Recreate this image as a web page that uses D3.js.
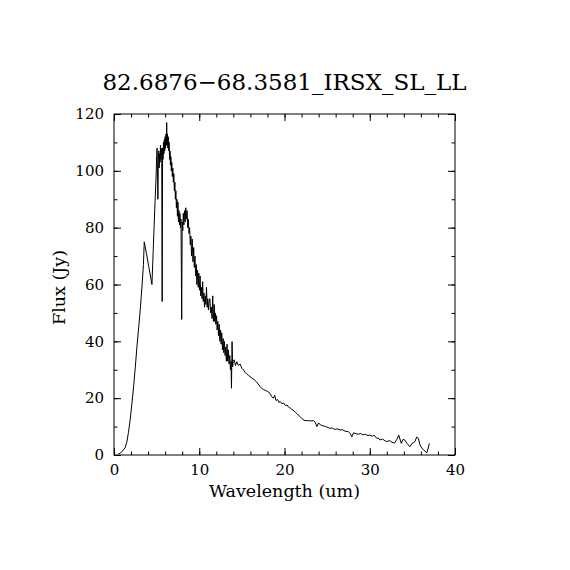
<!DOCTYPE html>
<html>
<head>
<meta charset="utf-8">
<script src="https://cdn.jsdelivr.net/npm/d3@7/dist/d3.min.js"></script>
<style>
  html, body { margin: 0; padding: 0; background: #fff; }
  svg { display: block; }
  text { font-family: "DejaVu Serif", serif; fill: #000; }
</style>
</head>
<body>
<svg id="chart" width="570" height="570"></svg>
<script>
const titleText = "82.6876\u221268.3581_IRSX_SL_LL";
const xLabel = "Wavelength (um)";
const yLabel = "Flux (Jy)";
const xMajorTicks = [0, 10, 20, 30, 40];
const yMajorTicks = [0, 20, 40, 60, 80, 100, 120];
const xDomain = [0, 40];
const yDomain = [0, 120];

const wavelength = [
  // rise
  0.5, 0.8, 1.1, 1.3, 1.5, 1.7, 1.9, 2.1, 2.3, 2.5, 2.7, 2.9, 3.1, 3.3, 3.45, 3.55,
  3.8, 4.1, 4.45, 4.6, 4.8, 4.95,
  // peak region
  5.0, 5.05, 5.1, 5.15, 5.2, 5.25, 5.3, 5.35, 5.4, 5.45, 5.5, 5.55, 5.6, 5.65, 5.7,
  5.75, 5.8, 5.85, 5.9, 5.95, 6.0, 6.05, 6.1, 6.15, 6.18, 6.22, 6.27, 6.32, 6.37,
  6.42, 6.47, 6.52, 6.57, 6.62, 6.67, 6.72, 6.78, 6.84, 6.9, 6.96, 7.02, 7.08, 7.14,
  7.2, 7.26, 7.32, 7.38, 7.44, 7.5, 7.56, 7.62, 7.68, 7.74, 7.8, 7.86, 7.94, 8.0,
  8.07, 8.13, 8.2, 8.27, 8.35, 8.42, 8.5, 8.57, 8.65, 8.72, 8.8, 8.87, 8.95,
  // noisy decline
  9.02, 9.1, 9.18, 9.26, 9.35, 9.42, 9.5, 9.58, 9.65, 9.72, 9.8, 9.88, 9.95, 10.03,
  10.1, 10.18, 10.25, 10.33, 10.4, 10.47, 10.55, 10.62, 10.7, 10.78, 10.85, 10.93,
  11.0, 11.08, 11.16, 11.25, 11.33, 11.42, 11.5, 11.58, 11.66, 11.75, 11.82, 11.88,
  11.95, 12.03, 12.1, 12.18, 12.26, 12.34, 12.42, 12.5, 12.57, 12.64, 12.72, 12.8,
  12.88, 12.95, 13.03, 13.1, 13.18, 13.26, 13.34, 13.42, 13.5, 13.58, 13.66, 13.72,
  // long-wavelength tail
  13.78, 13.85, 13.92, 13.98, 14.1, 14.25, 14.4, 14.6, 14.8,
  15.0, 15.2, 15.4, 15.6, 15.75, 15.95, 16.2, 16.45, 16.7, 16.9, 17.1, 17.3, 17.55,
  17.8, 18.05, 18.3, 18.5, 18.7, 18.85, 19.0, 19.2, 19.35, 19.5, 19.7, 19.9, 20.1,
  20.3, 20.5, 20.7, 20.85, 21.0, 21.3, 21.6, 21.9, 22.15, 22.4, 22.8, 23.1, 23.4,
  23.6, 23.8, 24.0, 24.2, 24.5, 24.8, 25.0, 25.3, 25.6, 25.9, 26.2, 26.5, 26.8,
  27.1, 27.5, 27.7, 27.9, 28.1, 28.4, 28.7, 28.9, 29.2, 29.5, 29.8, 30.0, 30.3,
  30.5, 30.8, 31.0, 31.2, 31.5, 31.8, 32.0, 32.3, 32.6, 32.9, 33.2, 33.4, 33.7,
  33.9, 34.1, 34.4, 34.7, 35.0, 35.3, 35.5, 35.7, 35.9, 36.1, 36.3, 36.5, 36.7, 37.0
];
const flux = [
  // rise
  0.3, 0.8, 1.8, 2.5, 4.5, 8, 12.5, 18, 24, 31, 38.5, 45, 52, 60, 67, 75,
  71, 66, 60, 72, 88, 99,
  // peak region
  105, 108, 100, 90, 104, 107, 101, 106, 103, 109, 104, 108, 105, 54, 108,
  104, 110, 106, 111, 107, 112, 108, 113, 109, 117, 109, 113, 108, 112,
  107, 110, 104, 107, 102, 105, 100, 103, 98, 101, 96, 99, 93, 96,
  90, 93, 87, 90, 84, 89, 82, 86, 81, 85, 80, 83, 47.7, 82,
  79, 85, 81, 86, 82, 87, 83, 86, 80, 83, 78, 80, 74,
  // noisy decline
  77, 70, 76, 68, 73, 66, 70, 63, 67, 60, 65, 59, 64, 58,
  63, 56, 59, 55, 61, 54, 57, 52, 56, 53, 59, 52,
  55, 51, 54, 55, 50, 52, 48, 56, 47, 53, 47, 50,
  46, 49, 44, 47, 42, 46, 40, 44, 39, 43, 37, 41,
  36, 40, 35, 38, 33, 39, 33, 37, 32, 35, 30, 33,
  // long-wavelength tail
  23.5, 39.9, 31, 33, 33.5, 31.5, 32.8, 31.5, 32,
  30.5, 29.9, 29, 28.4, 28.1, 27.6, 27, 26.5, 25.8, 25, 24.2, 23.5, 23,
  22.7, 22.3, 21.7, 20.5, 20, 21, 19.2, 19.5, 18.5, 18.8, 18, 18.3, 17.4,
  17.6, 16.8, 16.5, 16, 15.8, 15, 14.1, 13.3, 12.5, 12.1, 12.1, 12.0, 12.1,
  11.5, 10.0, 11.3, 10.6, 10.3, 10.0, 9.8, 9.4, 9.5, 9.0, 9.2, 8.8, 8.9,
  8.4, 8.2, 7.6, 6.4, 7.8, 7.5, 7.3, 7.6, 7.1, 7.3, 6.8, 7.0, 6.6,
  7.0, 5.9, 6.0, 5.3, 5.6, 5.0, 4.7, 5.1, 4.5, 4.2, 5.6, 7.0, 4.1,
  5.5, 5.3, 4.0, 2.9, 4.2, 4.7, 6.3, 5.9, 3.5, 2.5, 1.8, 1.3, 0.8, 4.1
];

const svg = d3.select("#chart");
const L = 114, R = 455, T = 114, B = 455;
const x = d3.scaleLinear().domain(xDomain).range([L, R]);
const y = d3.scaleLinear().domain(yDomain).range([B, T]);

const majorLen = 7, minorLen = 3.5;
const xMinor = d3.range(xDomain[0], xDomain[1] + 0.001, 2);
const yMinor = d3.range(yDomain[0], yDomain[1] + 0.001, 10);

function styleAxis(g) {
  g.select(".domain").remove();
  g.selectAll("line").attr("stroke", "#000").attr("stroke-width", 1);
  g.selectAll("text").style("font-family", "'DejaVu Serif', serif").style("font-size", "15px").attr("fill", "#000");
}

// bottom
svg.append("g").attr("transform", `translate(0,${B})`)
  .call(d3.axisBottom(x).tickValues(xMinor).tickSize(-minorLen).tickFormat(""))
  .call(styleAxis);
svg.append("g").attr("transform", `translate(0,${B})`)
  .call(d3.axisBottom(x).tickValues(xMajorTicks).tickSize(-majorLen).tickPadding(9).tickFormat(d3.format("d")))
  .call(styleAxis);
// top
svg.append("g").attr("transform", `translate(0,${T})`)
  .call(d3.axisTop(x).tickValues(xMinor).tickSize(-minorLen).tickFormat(""))
  .call(styleAxis);
svg.append("g").attr("transform", `translate(0,${T})`)
  .call(d3.axisTop(x).tickValues(xMajorTicks).tickSize(-majorLen).tickFormat(""))
  .call(styleAxis);
// left
svg.append("g").attr("transform", `translate(${L},0)`)
  .call(d3.axisLeft(y).tickValues(yMinor).tickSize(-minorLen).tickFormat(""))
  .call(styleAxis);
svg.append("g").attr("transform", `translate(${L},0)`)
  .call(d3.axisLeft(y).tickValues(yMajorTicks).tickSize(-majorLen).tickPadding(10).tickFormat(d3.format("d")))
  .call(styleAxis);
// right
svg.append("g").attr("transform", `translate(${R},0)`)
  .call(d3.axisRight(y).tickValues(yMinor).tickSize(-minorLen).tickFormat(""))
  .call(styleAxis);
svg.append("g").attr("transform", `translate(${R},0)`)
  .call(d3.axisRight(y).tickValues(yMajorTicks).tickSize(-majorLen).tickFormat(""))
  .call(styleAxis);

// frame
svg.append("rect")
  .attr("x", L).attr("y", T).attr("width", R - L).attr("height", B - T)
  .attr("fill", "none").attr("stroke", "#000").attr("stroke-width", 1);

// spectrum
const pts = wavelength.map((w, i) => [w, flux[i]]);
svg.append("path")
  .datum(pts)
  .attr("fill", "none")
  .attr("stroke", "#000")
  .attr("stroke-width", 1)
  .attr("stroke-linejoin", "miter")
  .attr("d", d3.line().x(d => x(d[0])).y(d => y(d[1])));

// title
svg.append("text")
  .attr("x", (L + R) / 2).attr("y", 90)
  .attr("text-anchor", "middle")
  .style("font-size", "23px")
  .text(titleText);

// x label
svg.append("text")
  .attr("x", (L + R) / 2).attr("y", 497)
  .attr("text-anchor", "middle")
  .style("font-size", "17.5px")
  .text(xLabel);

// y label
svg.append("text")
  .attr("transform", `translate(65,${(T + B) / 2 + 3}) rotate(-90)`)
  .attr("text-anchor", "middle")
  .style("font-size", "17.5px")
  .text(yLabel);
</script>
</body>
</html>
